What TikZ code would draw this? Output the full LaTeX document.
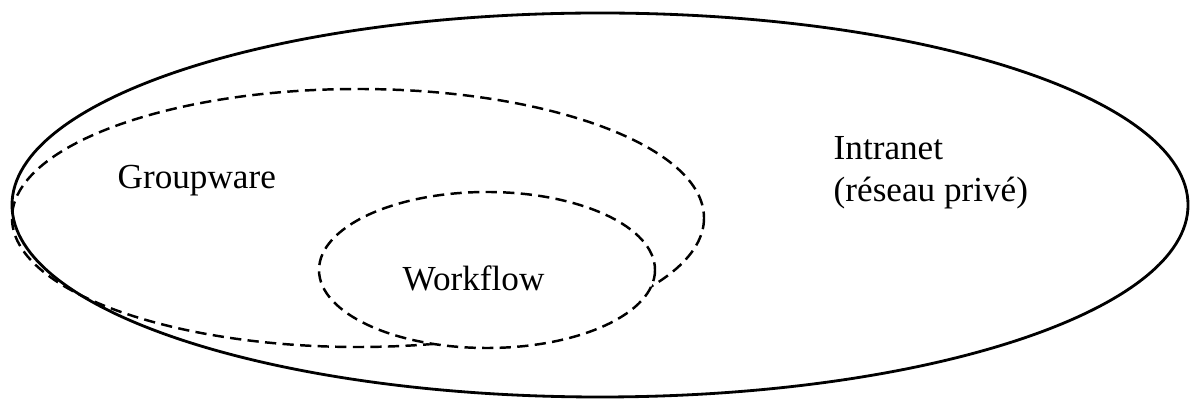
\documentclass[tikz,border=0pt]{standalone}
\usepackage{fontspec}
\setmainfont{Liberation Serif}
\begin{document}
\begin{tikzpicture}[x=0.01cm, y=-0.01cm, font=\fontsize{10}{12}\selectfont,
  setline/.style={line width=0.8pt},
  subset/.style={line width=0.7pt, dash pattern=on 3.2pt off 1.8pt},
  setlabel/.style={anchor=base west, inner sep=0pt}]
  \useasboundingbox (0,0) rectangle (1192,401);
  \def\Rx{588}
  \def\Ry{192}
  \def\gx{346}
  \def\gy{129}
  \def\wx{168}
  \def\wy{78}
  % intranet
  \draw[setline] (600,205) ellipse [x radius=\Rx, y radius=\Ry];
  % groupware
  \draw[subset] (358,218) ellipse [x radius=\gx, y radius=\gy];
  % workflow (hides the groupware line inside it)
  \fill[white] (487,270) ellipse [x radius=\wx, y radius=\wy];
  \draw[subset] (487,270) ellipse [x radius=\wx, y radius=\wy];
  \node[setlabel] (groupware) at (117,189) {Groupware};
  \node[setlabel] (workflow) at (402,291) {Workflow};
  \node[setlabel] (intranet) at (833,160) {Intranet};
  \node[setlabel] (reseau) at (833,202) {(réseau privé)};
\end{tikzpicture}
\end{document}
